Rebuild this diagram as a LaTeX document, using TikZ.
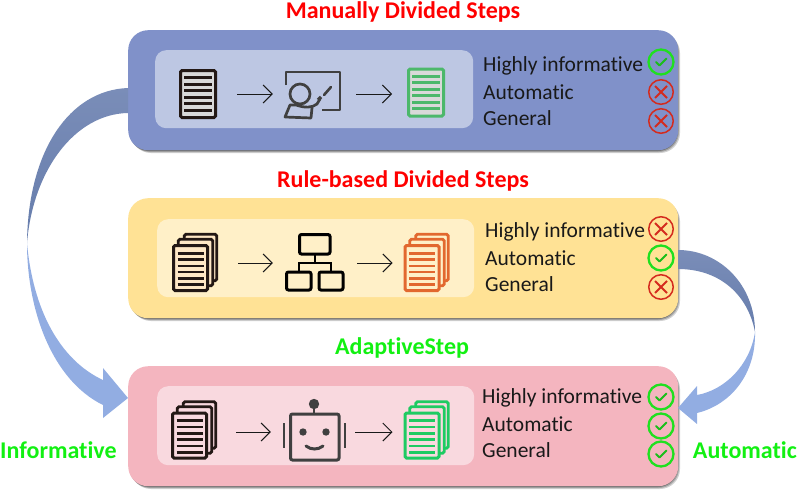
\documentclass[tikz,border=0pt]{standalone}
\usepackage{fontspec}
\setmainfont[Ligatures=NoCommon]{Carlito}
\definecolor{pa}{HTML}{8091C9}\definecolor{pai}{HTML}{BDC7E3}
\definecolor{pb}{HTML}{FFE295}\definecolor{pbi}{HTML}{FFF0C8}
\definecolor{pc}{HTML}{F4B5BF}\definecolor{pci}{HTML}{F9D9DF}
\definecolor{ink}{HTML}{231815}\definecolor{iconink}{HTML}{404040}
\definecolor{gdoc}{HTML}{4CB86B}\definecolor{odoc}{HTML}{E2682F}\definecolor{bdoc}{HTML}{1ECB62}
\definecolor{okc}{HTML}{1FE01F}\definecolor{noc}{HTML}{D42B1E}
\definecolor{brightg}{HTML}{12F012}
\definecolor{curvedark}{HTML}{7A8DB8}\definecolor{curvedeep}{HTML}{667DAC}\definecolor{curvelight}{HTML}{92ADE2}
\usetikzlibrary{arrows.meta}
\tikzset{
  x=1pt,y=-1pt,
  panel/.style={rounded corners=20pt,minimum width=550pt,minimum height=120pt,inner sep=0pt,anchor=north west},
  innerpanel/.style={rounded corners=11pt,inner sep=0pt,anchor=north west,minimum height=78pt,minimum width=317pt},
  title/.style={font=\fontsize{24}{28}\selectfont\bfseries,inner sep=0pt},
  prop/.style={font=\fontsize{21.5}{26}\selectfont,anchor=west,inner sep=0pt,text=black!90},
  side/.style={font=\fontsize{24}{28}\selectfont\bfseries,text=brightg,inner sep=0pt},
  flow/.style={line width=1pt,black!90,-{Straight Barb[length=9pt,width=18pt,line width=1pt]}},
  iconbox/.style={inner sep=0pt,minimum width=58pt,minimum height=50pt},
  docbox/.style={rounded corners=1.5pt,line width=3pt,inner sep=0pt,minimum width=35pt,minimum height=47pt},
  stackbox/.style={rounded corners=1.5pt,line width=3pt,inner sep=0pt,minimum width=34pt,minimum height=45pt},
  okmark/.style={draw=okc,line width=2.3pt,circle,inner sep=0pt,minimum size=25pt},
  nomark/.style={draw=noc,line width=1.5pt,circle,inner sep=0pt,minimum size=24.5pt},
}
% name, cx, cy, colour, fill
\newcommand{\docicon}[5]{%
  \node[docbox,draw=#4,fill=#5] (#1) at (#2,#3) {};
  \foreach \k in {-2.5,-1.5,-.5,.5,1.5,2.5}
    \draw[#4,line width=2.8pt] (#2-14,#3+6.55*\k) -- (#2+14,#3+6.55*\k);
}
\newcommand{\stackicon}[5]{%
  \path[draw=#4,fill=#5,rounded corners=1.5pt,line width=2.8pt] (#2-6.2,#3-33.7) rectangle (#2+26.2,#3+12.7);
  \path[draw=#4,fill=#5,rounded corners=1.5pt,line width=2.8pt] (#2-12.2,#3-28.7) rectangle (#2+22.2,#3+17.7);
  \node[stackbox,draw=#4,fill=#5] (#1) at (#2,#3) {};
  \foreach \k in {-2.5,-1.5,-.5,.5,1.5,2.5}
    \draw[#4,line width=2.6pt] (#2-13,#3+1+6.3*\k) -- (#2+13,#3+1+6.3*\k);
}
\newcommand{\okicon}[3]{%
  \node[okmark] (#1) at (#2,#3) {};
  \draw[okc!85!black,line width=1.8pt,line cap=round,line join=round] (#2-5,#3) -- (#2-1.5,#3+3.5) -- (#2+5.5,#3-3.5);
}
\newcommand{\noicon}[3]{%
  \node[nomark] (#1) at (#2,#3) {};
  \draw[noc,line width=1.9pt] (#2-6,#3-6) -- (#2+6,#3+6) (#2-6,#3+6) -- (#2+6,#3-6);
}
\begin{document}
\begin{tikzpicture}
\useasboundingbox (0,0) rectangle (797,490);
% shadows
\foreach \t/\o in {0/.18,1/.22,2/.3}{
  \fill[black,opacity=\o,rounded corners=20pt] (128+3-\t,30+3-\t) rectangle (678+2-\t,150+3-\t);
  \fill[black,opacity=\o,rounded corners=20pt] (128+3-\t,198+3-\t) rectangle (678+2-\t,318+3-\t);
  \fill[black,opacity=\o,rounded corners=20pt] (128+3-\t,366+3-\t) rectangle (678+2-\t,486+3-\t);
}
% panels
\node[panel,fill=pa] (panelA) at (128,30) {};
\node[panel,fill=pb] (panelB) at (128,198) {};
\node[panel,fill=pc] (panelC) at (128,366) {};
\node[innerpanel,fill=pai,minimum width=318pt] (innerA) at (155,50) {};
\node[innerpanel,fill=pbi] (innerB) at (157,219) {};
\node[innerpanel,fill=pci,minimum height=79pt] (innerC) at (157,386) {};
% curved arrows
\path[top color=curvedark,bottom color=curvedeep]
  (128,88) .. controls (70,90) and (28,150) .. (27,243)
  .. controls (33,170) and (75,114) .. (128,113) -- cycle;
\fill[curvelight] (27,243) .. controls (27,310) and (52,380) .. (103,405)
  -- (103,418) -- (128,398) -- (103,368) -- (103,380)
  .. controls (60,360) and (33,310) .. (27,243) -- cycle;
\path[top color=curvedark,bottom color=curvedeep]
  (678,250) .. controls (720,250) and (755,285) .. (755,332)
  .. controls (748,295) and (720,269) .. (678,269) -- cycle;
\fill[curvelight] (755,332) .. controls (756,375) and (730,405) .. (697,413)
  -- (697,424) -- (678,408) -- (697,386) -- (697,395)
  .. controls (725,390) and (750,365) .. (755,332) -- cycle;
% titles
\node[title,text=red] (titleA) at (403,12) {Manually Divided Steps};
\node[title,text=red] (titleB) at (403,181) {Rule-based Divided Steps};
\node[title,text=brightg] (titleC) at (402,348) {AdaptiveStep};
\node[side,anchor=west] (sideL) at (0,450) {Informative};
\node[side,anchor=east] (sideR) at (797,450) {Automatic};
% panel A icons
\docicon{docA}{198}{94}{ink}{black!15}
\node[iconbox] (board) at (313,94) {};
\draw[iconink,line width=2.5pt,line join=round] (286,85) -- (286,72) -- (340,72) -- (340,110) -- (322,110);
\draw[iconink,line width=2.7pt] (300,94) circle (10);
\draw[iconink,line width=2.7pt,line join=round,line cap=round] (320,99) -- (317,104) .. controls (312,108) and (305,108) .. (296,105) -- (290,105) -- (285,117) -- (311,118) -- (312,108);
\draw[iconink,line width=2.6pt,line cap=round] (324,95) -- (331,87);
\draw[iconink,line width=3.4pt] (318,100) -- (321,97);
\docicon{docA2}{426}{92.5}{gdoc}{black!15}
\draw[flow,shorten <=20pt,shorten >=11pt] (docA) -- (board);
\draw[flow,shorten <=14pt,shorten >=15pt] (board.east) -- (board.east -| docA2.west);
% panel B icons
\stackicon{docB}{190.5}{268}{ink}{pbi!80!orange!60!white}
\node[iconbox] (tree) at (315,263) {};
\begin{scope}[black,line width=3pt,rounded corners=2pt]
  \draw (299.5,234.5) rectangle (330,254);
  \draw (286.5,272) rectangle (311,290);
  \draw (319,272) rectangle (343,290);
  \draw[rounded corners=0pt,line width=2.6pt] (315,254) -- (315,263) (299,272) -- (299,263) -- (331,263) -- (331,272);
\end{scope}
\stackicon{docB2}{422}{268}{odoc}{pbi}
\draw[flow,shorten <=29pt,shorten >=13pt] (docB.east |- tree) -- (tree.west);
\draw[flow,shorten <=13pt,shorten >=11pt] (tree.east) -- (tree.east -| docB2.west);
% panel C icons
\stackicon{docC}{189.5}{435.5}{ink}{pci}
\node[iconbox] (robot) at (314,432) {};
\draw[iconink,line width=3pt,rounded corners=2pt] (290.5,414) rectangle (339,460);
\fill[iconink] (314,404) circle (5.2);
\draw[iconink,line width=2.2pt] (314,405) -- (314,413);
\draw[iconink,line width=1.8pt] (284,423) -- (284,448) (345,423) -- (345,448);
\fill[iconink] (303,432) circle (3.7) (326,432) circle (3.7);
\draw[iconink,line width=3pt,line cap=round] (306,446) .. controls (311,450) and (318,450) .. (323,446);
\stackicon{docC2}{422}{435.5}{bdoc}{pci}
\draw[flow,shorten <=28pt,shorten >=14pt] (docC.east |- robot) -- (robot.west);
\draw[flow,shorten <=12pt,shorten >=11pt] (robot.east) -- (robot.east -| docC2.west);
% property labels
\node[prop] (a1) at (483,66) {Highly informative};
\node[prop] (a2) at (483,92) {Automatic};
\node[prop] (a3) at (483,118) {General};
\node[prop] (b1) at (485,232) {Highly informative};
\node[prop] (b2) at (485,258) {Automatic};
\node[prop] (b3) at (485,284) {General};
\node[prop] (c1) at (482,398) {Highly informative};
\node[prop] (c2) at (482,424) {Automatic};
\node[prop] (c3) at (482,450) {General};
% marks
\okicon{ma1}{661}{62}
\noicon{ma2}{661}{92}
\noicon{ma3}{661}{121}
\noicon{mb1}{661}{229}
\okicon{mb2}{661}{258}
\noicon{mb3}{661}{287}
\okicon{mc1}{661}{397}
\okicon{mc2}{661}{426}
\okicon{mc3}{661}{454}
\end{tikzpicture}
\end{document}
